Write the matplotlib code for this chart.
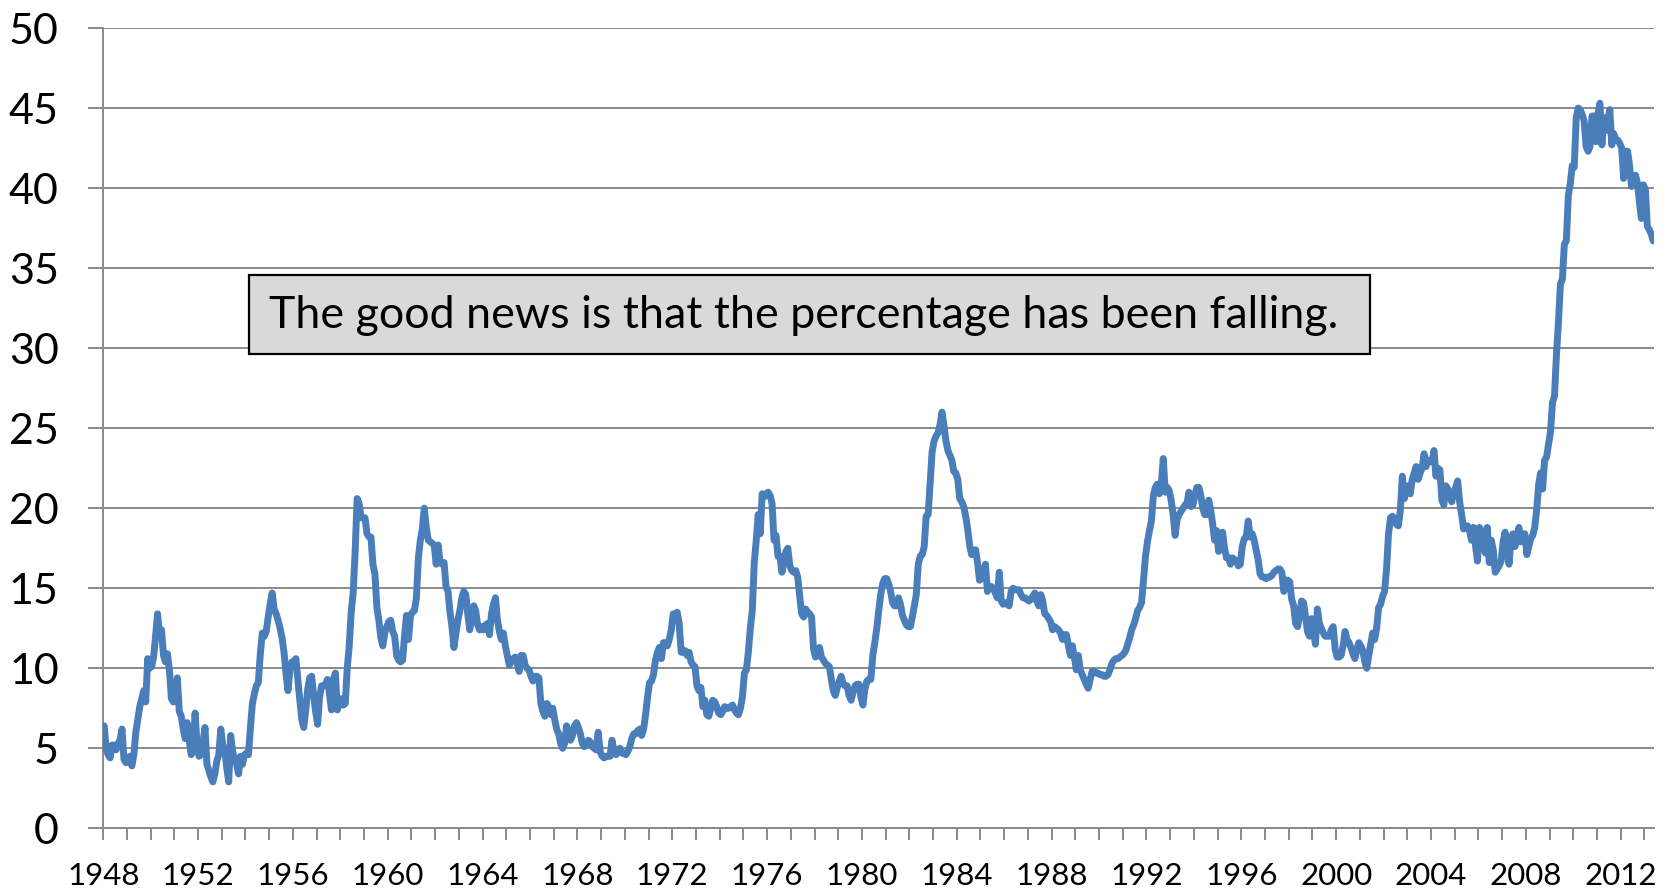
import matplotlib
matplotlib.use("Agg")
import matplotlib.pyplot as plt
from matplotlib.patches import Rectangle
import numpy as np

# monthly share of unemployed out of work 27 weeks or more
values = {
    1948: [6.4, 4.9, 4.6, 4.4, 5.2, 5.2, 4.9, 5.3, 5.5, 6.2, 4.3, 4.1],
    1949: [4.2, 4.5, 3.9, 4.6, 6.0, 6.8, 7.6, 8.1, 8.6, 7.9, 10.6, 10.0],
    1950: [10.1, 10.7, 12.0, 13.4, 12.1, 12.4, 10.8, 10.4, 10.9, 9.9, 8.1, 7.9],
    1951: [8.0, 9.4, 7.3, 7.0, 6.2, 5.6, 6.6, 5.5, 4.6, 4.8, 7.2, 5.2],
    1952: [4.5, 4.6, 5.4, 6.3, 4.0, 3.6, 3.2, 2.9, 3.4, 4.2, 4.6, 6.2],
    1953: [5.2, 5.0, 3.8, 2.9, 5.8, 4.8, 4.3, 4.0, 3.4, 4.5, 4.0, 4.6],
    1954: [4.7, 4.6, 6.3, 7.8, 8.4, 8.9, 9.1, 10.9, 12.2, 12.0, 12.3, 13.2],
    1955: [14.0, 14.7, 13.7, 13.4, 13.0, 12.5, 11.9, 11.0, 9.7, 8.6, 9.9, 10.4],
    1956: [10.4, 10.6, 9.3, 8.0, 6.8, 6.3, 7.4, 8.7, 9.4, 9.5, 8.3, 7.3],
    1957: [6.5, 8.2, 8.9, 8.9, 9.0, 9.3, 8.4, 7.4, 9.3, 9.7, 7.4, 7.9],
    1958: [8.1, 7.7, 7.8, 10.0, 11.4, 13.5, 14.7, 17.3, 20.6, 20.3, 19.4, 19.4],
    1959: [19.4, 18.4, 18.2, 18.2, 16.5, 15.9, 13.8, 13.0, 11.9, 11.4, 12.2, 12.6],
    1960: [12.9, 13.0, 12.3, 12.0, 10.8, 10.5, 10.4, 10.5, 12.0, 13.3, 11.8, 13.3],
    1961: [13.5, 13.6, 14.4, 16.9, 18.0, 18.7, 20.0, 18.8, 18.0, 17.9, 17.8, 17.7],
    1962: [16.5, 17.7, 16.6, 16.5, 16.6, 15.1, 14.8, 13.5, 12.6, 11.3, 12.2, 13.0],
    1963: [13.6, 14.4, 14.8, 14.6, 13.4, 12.4, 13.2, 13.9, 13.6, 12.7, 12.4, 12.6],
    1964: [12.4, 12.7, 12.8, 12.1, 13.4, 14.0, 14.4, 13.0, 12.3, 11.8, 12.2, 11.4],
    1965: [10.8, 10.2, 10.4, 10.6, 10.7, 10.3, 9.8, 10.8, 10.8, 10.2, 10.0, 9.9],
    1966: [9.5, 9.2, 9.5, 9.5, 9.4, 7.8, 7.3, 7.0, 7.8, 7.6, 7.1, 7.5],
    1967: [6.8, 6.2, 5.9, 5.3, 5.0, 5.3, 6.4, 6.0, 5.5, 5.8, 6.4, 6.6],
    1968: [6.3, 5.9, 5.3, 5.1, 5.3, 5.5, 5.4, 5.1, 5.0, 4.9, 6.0, 4.8],
    1969: [4.5, 4.4, 4.5, 4.5, 4.5, 5.5, 4.8, 4.6, 4.9, 5.0, 4.7, 4.7],
    1970: [4.6, 4.8, 5.1, 5.6, 5.9, 5.9, 6.1, 6.2, 5.8, 6.2, 7.1, 8.2],
    1971: [9.1, 9.2, 9.6, 10.5, 11.0, 11.3, 10.6, 11.6, 11.6, 11.4, 11.8, 12.4],
    1972: [13.4, 13.3, 13.5, 12.8, 11.0, 11.0, 11.1, 10.8, 11.0, 10.4, 10.2, 10.1],
    1973: [8.9, 8.6, 8.8, 7.6, 8.0, 7.1, 7.0, 7.5, 8.0, 7.9, 7.6, 7.2],
    1974: [7.1, 7.3, 7.6, 7.5, 7.5, 7.6, 7.7, 7.4, 7.2, 7.1, 7.5, 8.2],
    1975: [9.7, 9.9, 11.0, 12.5, 13.6, 16.6, 18.0, 19.6, 18.4, 20.9, 20.7, 20.9],
    1976: [21.0, 20.8, 20.3, 18.0, 18.3, 17.0, 17.0, 16.0, 16.6, 17.3, 17.5, 16.4],
    1977: [16.1, 16.0, 16.1, 15.7, 14.5, 13.4, 13.2, 13.7, 13.5, 13.4, 13.2, 11.2],
    1978: [10.7, 10.8, 11.3, 10.7, 10.5, 10.3, 10.2, 10.1, 9.3, 8.6, 8.3, 8.8],
    1979: [9.2, 9.5, 9.0, 8.9, 8.9, 8.3, 8.0, 8.5, 8.9, 9.0, 9.0, 8.2],
    1980: [7.7, 8.7, 9.2, 9.3, 9.3, 10.8, 11.6, 12.5, 13.6, 14.6, 15.3, 15.6],
    1981: [15.6, 15.3, 14.8, 14.1, 13.9, 13.9, 14.4, 14.0, 13.3, 13.0, 12.7, 12.6],
    1982: [12.6, 13.2, 13.9, 14.6, 16.5, 17.0, 17.1, 17.6, 19.5, 19.6, 21.5, 23.5],
    1983: [24.2, 24.5, 24.7, 25.2, 26.0, 25.2, 24.2, 23.6, 23.3, 23.0, 22.3, 22.2],
    1984: [21.8, 20.6, 20.4, 20.1, 19.5, 18.7, 17.7, 17.1, 17.3, 17.4, 16.6, 15.5],
    1985: [15.6, 15.8, 16.5, 14.8, 15.1, 15.1, 15.0, 14.7, 14.4, 16.0, 14.2, 14.0],
    1986: [14.1, 14.0, 13.9, 14.8, 15.0, 14.9, 14.9, 14.9, 14.6, 14.4, 14.4, 14.3],
    1987: [14.2, 14.3, 14.5, 14.7, 14.2, 13.9, 14.6, 14.2, 13.4, 13.3, 13.1, 12.9],
    1988: [12.4, 12.6, 12.5, 12.4, 12.2, 11.8, 12.1, 12.1, 11.4, 10.8, 11.4, 10.7],
    1989: [9.9, 10.8, 9.9, 9.6, 9.3, 9.0, 8.75, 9.3, 9.8, 9.8, 9.7, 9.7],
    1990: [9.6, 9.6, 9.5, 9.5, 9.6, 9.9, 10.3, 10.5, 10.6, 10.6, 10.7, 10.8],
    1991: [10.9, 11.1, 11.5, 11.9, 12.4, 12.7, 13.1, 13.6, 13.8, 14.1, 15.5, 17.0],
    1992: [17.9, 18.6, 19.2, 20.8, 21.3, 21.5, 20.9, 21.5, 23.1, 21.0, 21.3, 21.1],
    1993: [20.5, 19.6, 18.3, 19.3, 19.6, 19.8, 20.0, 20.2, 20.3, 21.0, 20.1, 20.2],
    1994: [20.8, 21.3, 21.3, 20.8, 20.0, 19.6, 19.6, 20.5, 19.9, 19.0, 18.0, 18.6],
    1995: [17.3, 17.6, 18.5, 17.5, 16.9, 16.9, 16.5, 16.9, 16.8, 16.7, 16.4, 16.5],
    1996: [17.6, 18.1, 18.2, 19.2, 18.2, 18.4, 18.0, 17.4, 16.8, 15.9, 15.7, 15.7],
    1997: [15.6, 15.7, 15.7, 15.8, 16.0, 16.1, 16.2, 16.2, 16.0, 14.8, 15.5, 15.5],
    1998: [15.4, 14.3, 13.9, 12.8, 12.6, 13.3, 14.2, 14.1, 13.2, 12.3, 12.0, 13.1],
    1999: [12.4, 11.5, 13.7, 12.8, 12.5, 12.2, 12.0, 12.0, 12.0, 12.4, 12.6, 11.2],
    2000: [10.7, 10.7, 10.8, 11.4, 12.3, 11.8, 11.6, 11.3, 10.9, 10.6, 11.2, 11.6],
    2001: [11.4, 11.1, 10.4, 10.0, 10.8, 11.5, 12.2, 11.8, 12.5, 13.8, 14.0, 14.5],
    2002: [14.8, 16.2, 18.4, 19.4, 19.5, 19.3, 19.0, 18.9, 19.9, 22.0, 20.6, 21.3],
    2003: [21.4, 20.9, 21.8, 22.2, 22.6, 21.8, 22.2, 22.5, 23.4, 22.6, 23.0, 22.9],
    2004: [22.9, 23.6, 22.0, 22.5, 22.4, 20.5, 20.2, 21.4, 21.2, 20.8, 20.4, 21.0],
    2005: [21.3, 21.7, 20.4, 19.6, 18.7, 18.8, 18.9, 18.6, 18.0, 18.8, 17.7, 16.7],
    2006: [18.8, 18.6, 18.2, 17.2, 18.8, 16.6, 18.0, 17.4, 16.0, 16.2, 16.4, 16.7],
    2007: [17.9, 18.5, 17.5, 16.5, 18.1, 18.4, 17.6, 18.1, 18.8, 17.9, 18.4, 18.4],
    2008: [17.1, 17.6, 18.1, 18.3, 18.8, 19.9, 21.5, 22.2, 21.2, 23.0, 23.2, 24.0],
    2009: [24.8, 26.6, 27.0, 29.6, 31.6, 34.0, 34.3, 36.5, 36.7, 39.5, 40.3, 41.4],
    2010: [41.3, 44.4, 45.0, 44.9, 44.6, 44.2, 42.6, 42.3, 42.6, 44.5, 44.5, 42.9],
    2011: [44.6, 45.3, 42.7, 44.4, 43.6, 44.2, 44.9, 42.7, 43.4, 43.0, 43.0, 42.8],
    2012: [42.5, 40.6, 42.3, 42.3, 41.4, 40.1, 40.7, 40.8, 40.3, 39.1, 38.1, 40.2],
    2013: [39.9, 37.6, 37.4, 37.1, 36.7],
}

share = np.concatenate([values[y] for y in sorted(values)])
start_year = 1948
t = start_year + (np.arange(len(share)) + 0.5) / 12
end = start_year + len(share) / 12

note = "The good news is that the percentage has been falling."

fig = plt.figure(figsize=(16.73, 8.92), dpi=100)
ax = fig.add_axes([0.0617, 0.0714, 0.9271, 0.8972])

grid_col = "#8a8a8a"
ax.plot(t, share, color="#4a7ebb", lw=5.0, solid_joinstyle="round",
        solid_capstyle="round", zorder=3)

ax.set_xlim(start_year, end)
ax.set_ylim(0, 50)
ax.set_yticks(range(0, 51, 5))
ax.yaxis.grid(True, color=grid_col, lw=1.4)
ax.set_axisbelow(True)

years = list(range(start_year, 2014))
ax.set_xticks(years)
ax.set_xticklabels([str(y) if (y - start_year) % 4 == 0 else "" for y in years])

for s in ["top", "right"]:
    ax.spines[s].set_visible(False)
for s in ["left", "bottom"]:
    ax.spines[s].set_color(grid_col)
    ax.spines[s].set_linewidth(1.4)

ax.tick_params(axis="y", length=11, width=1.4, color=grid_col, pad=21, labelsize=31)
ax.tick_params(axis="x", length=8.5, width=1.4, color=grid_col, pad=16, labelsize=22.5)
for lab in ax.get_xticklabels() + ax.get_yticklabels():
    lab.set_family("Lato")

# callout box
ax.add_patch(Rectangle((1954.15, 29.64), 47.28, 4.93, transform=ax.transData,
                       facecolor="#d9d9d9", edgecolor="black", lw=1.6, zorder=4))
ax.text(1955.0, 32.05, note, family="Lato", fontsize=32.3, va="center", ha="left", zorder=5)

fig.savefig("out.png", dpi=100)
